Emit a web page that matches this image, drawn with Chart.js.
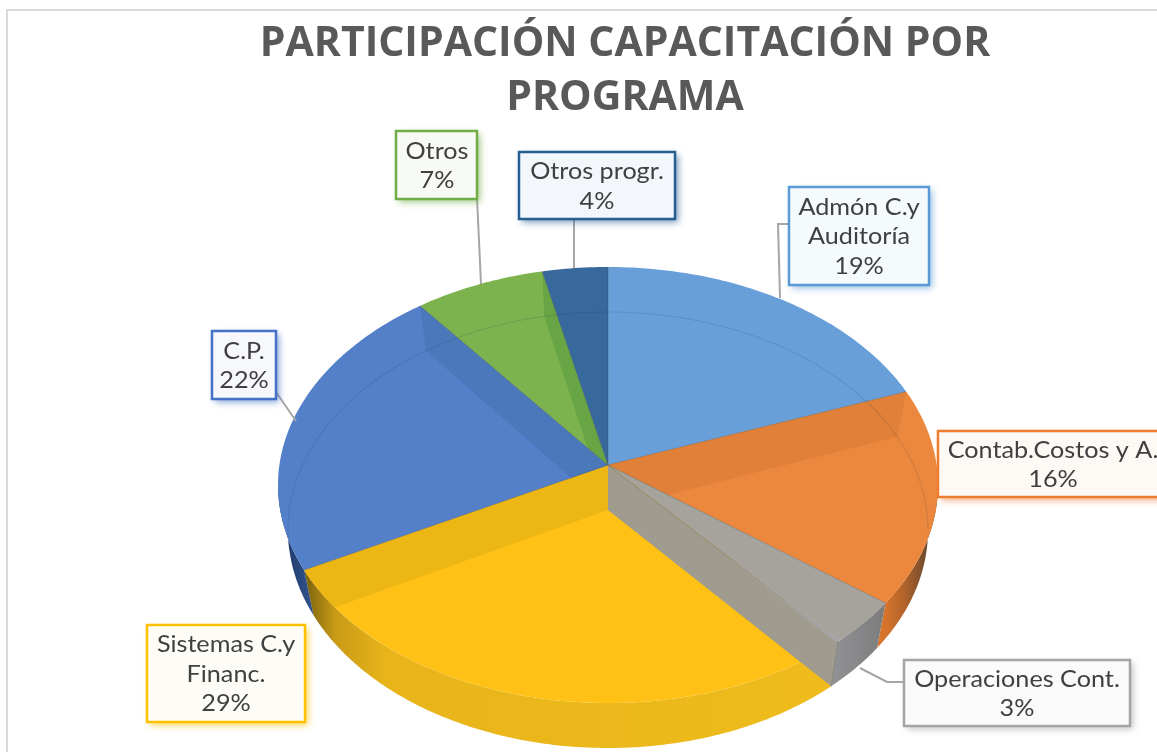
<!DOCTYPE html>
<html lang="es">
<head>
<meta charset="utf-8">
<title>Participación capacitación por programa</title>
<script src="https://cdn.jsdelivr.net/npm/chart.js@4/dist/chart.umd.min.js"></script>
<style>
  html, body { margin: 0; padding: 0; background: #fff; overflow: hidden; }
  canvas { display: block; filter: blur(0.6px); }
</style>
</head>
<body>
<canvas id="ch_part" width="1157" height="752"></canvas>
<script>
/* data */
const categories = ['Admón C.y Auditoría', 'Contab.Costos y A.', 'Operaciones Cont.', 'Sistemas C.y Financ.', 'C.P.', 'Otros', 'Otros progr.'];
const values = [19.3, 16, 3.4, 28.6, 22.2, 7, 3.5];
const labelLines = [['Admón C.y', 'Auditoría'], ['Contab.Costos y A.'], ['Operaciones Cont.'], ['Sistemas C.y', 'Financ.'], ['C.P.'], ['Otros'], ['Otros progr.']];
const titleLines = ['PARTICIPACIÓN CAPACITACIÓN POR', 'PROGRAMA'];

/* slice styles */
const faceColors = ['#699fd9', '#ec883e', '#a6a39d', '#ffc116', '#5480c9', '#7db34f', '#37699c'];
const bandColors = ['#699fd9', '#e08039', '#a6a39d', '#ecb715', '#4a78ba', '#68a544', '#37699c'];
const borderColors = ['#5b9bd5', '#ed7d31', '#a5a5a5', '#ffc000', '#4472c4', '#70ad47', '#255e91'];
const boxFills = ['#f5fafd', '#fdf9f5', '#fafafa', '#fefcf6', '#f6f8fc', '#f8fbf5', '#f3f7fb'];
const wallStops = [
  null,
  [[886, '#d6742c'], [905, '#b0622a'], [930, '#64482f']],
  [[835, '#909194'], [886, '#7b7b7b']],
  [[303, '#75600f'], [335, '#c89a16'], [385, '#e8b41a'], [835, '#efbc1c']],
  [[280, '#1e3560'], [305, '#2c4d85']],
  null, null
];

/* label boxes: x, y, w, h, text centre x */
const boxes = [[789, 187, 140, 98, 859], [938, 431, 225, 66, 1053], [904, 660, 226, 66, 1017], [147, 625, 158, 97, 226], [212, 331, 64, 68, 244], [396, 131, 81, 68, 437], [519, 152, 156, 67, 597]];
const leaders = [
  [[789, 224], [778, 224], [780, 298]],
  null,
  [[904, 682], [887, 682], [860, 668]],
  null,
  [[276, 392], [296, 421]],
  [[477, 198], [481, 284]],
  [[574, 219], [574, 268]]
];

/* the tilted disc: top rim, lower rim, and the apex of each (apex sits above rim centre) */
const TOP = { cx: 608, cy: 485, rx: 330, ry: 218, ax: 608, ay: 465 };
const LOW = { cx: 608, cy: 530, rx: 320, ry: 218, ax: 608, ay: 510 };
const PERSP = 1.096;

function rimAngle(theta) {
  return 2 * Math.atan2(Math.sin(theta / 2), PERSP * Math.cos(theta / 2));
}
function rimPoint(rim, phi) {
  return [rim.cx + rim.rx * Math.sin(phi), rim.cy - rim.ry * Math.cos(phi)];
}
function arcPoints(rim, a, b) {
  const n = Math.max(2, Math.ceil(Math.abs(b - a) / 0.015));
  const pts = [];
  for (let i = 0; i <= n; i++) pts.push(rimPoint(rim, a + (b - a) * i / n));
  return pts;
}
function tracePoly(ctx, pts) {
  ctx.beginPath();
  pts.forEach((p, i) => i ? ctx.lineTo(p[0], p[1]) : ctx.moveTo(p[0], p[1]));
  ctx.closePath();
}
function cutWall(phi) {
  return [[TOP.ax, TOP.ay], rimPoint(TOP, phi), rimPoint(LOW, phi), [LOW.ax, LOW.ay]];
}

const pie3d = {
  id: 'pie3d',
  beforeDatasetDraw(chart) {
    const ctx = chart.ctx;
    const arcs = chart.getDatasetMeta(0).data.map(el => {
      const p = el.getProps(['startAngle', 'endAngle'], true);
      return { a: rimAngle(p.startAngle + Math.PI / 2), b: rimAngle(p.endAngle + Math.PI / 2) };
    });

    // outer wall, only the part of the rim facing us
    arcs.forEach((arc, i) => {
      const from = Math.max(arc.a, Math.PI / 2), to = Math.min(arc.b, Math.PI * 1.5);
      if (to <= from || !wallStops[i]) return;
      const stops = wallStops[i];
      const x0 = stops[0][0], x1 = stops[stops.length - 1][0];
      const grad = ctx.createLinearGradient(x0, 0, x1, 0);
      stops.forEach(s => grad.addColorStop((s[0] - x0) / (x1 - x0), s[1]));
      tracePoly(ctx, arcPoints(TOP, from, to).concat(arcPoints(LOW, to, from)));
      ctx.fillStyle = grad;
      ctx.fill();
    });

    // top of each slice, then the cut walls seen through it
    arcs.forEach((arc, i) => {
      const slice = [[TOP.ax, TOP.ay]].concat(arcPoints(TOP, arc.a, arc.b));
      tracePoly(ctx, slice);
      ctx.fillStyle = faceColors[i];
      ctx.fill();

      ctx.save();
      tracePoly(ctx, slice);
      ctx.clip();
      ctx.fillStyle = bandColors[i];
      [arc.a, arc.b].forEach(phi => {
        tracePoly(ctx, cutWall(phi));
        ctx.fill();
      });
      ctx.restore();
    });

    // faint line: lower rim seen through the back half
    ctx.beginPath();
    arcPoints(LOW, Math.PI * 1.47, Math.PI * 2.5).forEach((p, i) => i ? ctx.lineTo(p[0], p[1]) : ctx.moveTo(p[0], p[1]));
    ctx.strokeStyle = 'rgba(40,50,70,0.13)';
    ctx.lineWidth = 1.2;
    ctx.stroke();

    // cut wall of the small grey slice, seen across the yellow one
    const wall = cutWall(arcs[2].b);
    tracePoly(ctx, wall);
    ctx.fillStyle = '#9f9c8f';
    ctx.fill();
    const pTop = wall[1], pLow = wall[2];
    const shine = ctx.createLinearGradient(TOP.ax + (pTop[0] - TOP.ax) * 0.5, TOP.ay + (pTop[1] - TOP.ay) * 0.5, pTop[0], pTop[1]);
    shine.addColorStop(0, 'rgba(178,178,186,0)');
    shine.addColorStop(1, 'rgba(178,178,186,1)');
    ctx.beginPath();
    ctx.moveTo(TOP.ax + (pTop[0] - TOP.ax) * 0.5, TOP.ay + (pTop[1] - TOP.ay) * 0.5);
    ctx.lineTo(pTop[0], pTop[1]);
    ctx.strokeStyle = shine;
    ctx.lineWidth = 2.5;
    ctx.stroke();
    ctx.beginPath();
    ctx.moveTo(pTop[0], pTop[1]);
    ctx.lineTo(pLow[0], pLow[1]);
    ctx.strokeStyle = '#85857f';
    ctx.lineWidth = 1;
    ctx.stroke();

    // slice seams
    arcs.forEach(arc => {
      const p = rimPoint(TOP, arc.a);
      ctx.beginPath();
      ctx.moveTo(TOP.ax, TOP.ay);
      ctx.lineTo(p[0], p[1]);
      ctx.strokeStyle = 'rgba(70,60,50,0.28)';
      ctx.lineWidth = 1;
      ctx.stroke();
    });
    return false;
  },
  afterDraw(chart) {
    const ctx = chart.ctx;
    ctx.save();

    // frame of the pasted picture
    ctx.strokeStyle = '#d9d9d9';
    ctx.lineWidth = 2;
    ctx.beginPath();
    ctx.moveTo(7, 752);
    ctx.lineTo(7, 10);
    ctx.lineTo(1157, 10);
    ctx.stroke();

    leaders.forEach(line => {
      if (!line) return;
      ctx.beginPath();
      line.forEach((p, i) => i ? ctx.lineTo(p[0], p[1]) : ctx.moveTo(p[0], p[1]));
      ctx.strokeStyle = '#a6a6a6';
      ctx.lineWidth = 2;
      ctx.stroke();
    });

    const total = values.reduce((s, v) => s + v, 0);
    ctx.textAlign = 'center';
    ctx.textBaseline = 'middle';
    ctx.font = '22.5px Lato, "Open Sans", sans-serif';
    categories.forEach((cat, i) => {
      const [x, y, w, h, midX] = boxes[i];
      ctx.save();
      ctx.shadowColor = borderColors[i] + 'aa';
      ctx.shadowBlur = 7;
      ctx.shadowOffsetX = 3;
      ctx.shadowOffsetY = 3;
      ctx.fillStyle = boxFills[i];
      ctx.fillRect(x, y, w, h);
      ctx.restore();
      ctx.strokeStyle = borderColors[i];
      ctx.lineWidth = 2.5;
      ctx.strokeRect(x, y, w, h);

      const lines = labelLines[i].concat(Math.round(values[i] / total * 100) + '%');
      const lineH = 29.5;
      lines.forEach((txt, k) => {
        // the source text is stretched sideways a little
        ctx.save();
        ctx.translate(midX, y + h / 2 + 1 + (k - (lines.length - 1) / 2) * lineH);
        ctx.scale(1.12, 1);
        ctx.fillStyle = '#404040';
        ctx.fillText(txt, 0, 0);
        ctx.restore();
      });
    });
    ctx.restore();
  }
};

new Chart(document.getElementById('ch_part'), {
  type: 'pie',
  data: {
    labels: categories,
    datasets: [{ data: values, backgroundColor: faceColors, borderWidth: 0 }]
  },
  options: {
    responsive: false,
    animation: false,
    layout: { padding: { left: 93 } },
    plugins: {
      legend: { display: false },
      tooltip: { enabled: false },
      title: {
        display: true,
        text: titleLines,
        color: '#595959',
        font: { family: '"Open Sans", Lato, sans-serif', size: 41, weight: 'bold', lineHeight: 1.32 },
        padding: { top: 17, bottom: 10 }
      }
    }
  },
  plugins: [pie3d]
});
</script>
</body>
</html>
